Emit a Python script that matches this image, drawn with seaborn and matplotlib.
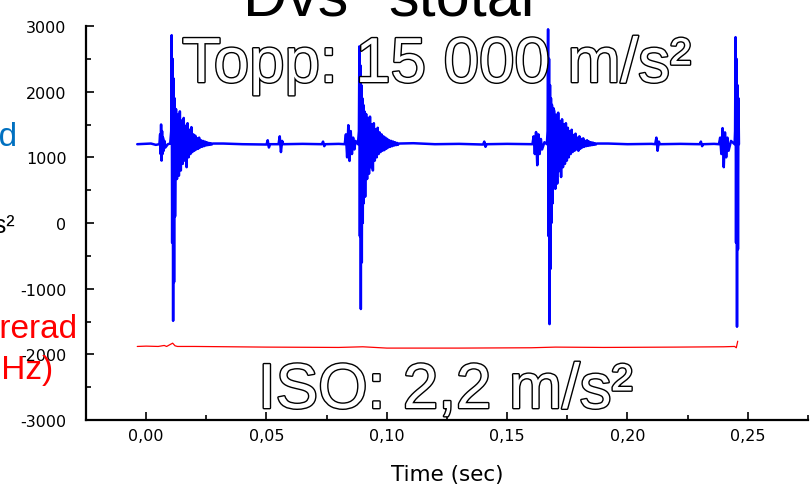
import matplotlib
matplotlib.use("Agg")
from matplotlib import pyplot as plt
from matplotlib import patheffects as pe
from matplotlib.ticker import MultipleLocator, FuncFormatter
import seaborn as sns

# unfiltered acceleration (m/s2)
blue_time = [
    # start + pre-burst 1
    -0.0037, 0.002, 0.004, 0.0055, 0.0058, 0.006, 0.0062, 0.0064, 0.0066, 0.0068, 0.007, 0.0073, 0.0076, 0.008, 0.009, 0.010,
    # hit 1
    0.0104, 0.0106, 0.0108, 0.0110, 0.0112, 0.0114, 0.0116, 0.0118, 0.0120,
    0.0124, 0.0128, 0.0132, 0.0136, 0.0140, 0.0144, 0.0148, 0.0152, 0.0156, 0.0160, 0.0164, 0.0168, 0.0172,
    0.0176, 0.0180, 0.0184, 0.0188, 0.0192, 0.0196, 0.0200, 0.0204, 0.0208, 0.0212, 0.0216, 0.0220, 0.0224,
    0.0228, 0.0232, 0.0236, 0.0240, 0.0244, 0.0248, 0.0252, 0.0256, 0.0260, 0.0264, 0.0268, 0.0272, 0.0276,
    # quiet part
    0.032, 0.04, 0.05, 0.0505, 0.051, 0.0515, 0.055, 0.0555, 0.056, 0.0565, 0.057, 0.065, 0.073, 0.0735,
    0.074, 0.0745, 0.080,
    # pre-burst 2
    0.0825, 0.0830, 0.0835, 0.084, 0.0845, 0.085, 0.0855, 0.086, 0.0865, 0.087, 0.088,
    # hit 2
    0.0884, 0.0886, 0.0888, 0.0890, 0.0892, 0.0894, 0.0896, 0.0898, 0.0900, 0.0902, 0.0904, 0.0907,
    0.0910, 0.0914, 0.0918, 0.0922, 0.0926, 0.0930, 0.0934, 0.0938, 0.0942, 0.0946, 0.0950, 0.0954,
    0.0958, 0.0962, 0.0966, 0.0970, 0.0974, 0.0978, 0.0982, 0.0986, 0.0990, 0.0994, 0.0998, 0.1002,
    0.1006, 0.1010, 0.1014, 0.1018, 0.1022, 0.1026, 0.1030, 0.1034, 0.1038, 0.1042, 0.1046, 0.1050,
    # quiet part
    0.111, 0.12, 0.13, 0.14, 0.1405, 0.141, 0.1415, 0.150, 0.158,
    # pre-burst 3
    0.1605, 0.161, 0.1615, 0.162, 0.1625, 0.163, 0.1635, 0.164, 0.1645, 0.1655, 0.1665,
    # hit 3
    0.1668, 0.1670, 0.1672, 0.1674, 0.1676, 0.1678, 0.1680, 0.1682, 0.1684, 0.1686, 0.1689, 0.1692,
    0.1696, 0.1700, 0.1704, 0.1708, 0.1712, 0.1716, 0.1720, 0.1724, 0.1728, 0.1732, 0.1736, 0.1740,
    0.1744, 0.1748, 0.1752, 0.1756, 0.1760, 0.1764, 0.1768, 0.1772, 0.1776, 0.1780, 0.1784, 0.1788,
    0.1792, 0.1796, 0.1800, 0.1804, 0.1808, 0.1812, 0.1816, 0.1820, 0.1824, 0.1828, 0.1832, 0.1836,
    0.1840, 0.1844, 0.1848, 0.1852, 0.1856, 0.1860, 0.1864, 0.1868, 0.1872,
    # quiet part
    0.192, 0.200, 0.210, 0.2115, 0.212, 0.2125, 0.213, 0.2135, 0.222, 0.230, 0.2305, 0.231, 0.2315, 0.236,
    # pre-burst 4
    0.238, 0.2385, 0.239, 0.2395, 0.240, 0.2405, 0.241, 0.2415, 0.242, 0.243, 0.2445,
    # hit 4 (end of record)
    0.2447, 0.2449, 0.2451, 0.2453, 0.2455, 0.2457, 0.2459, 0.2461, 0.2463]
blue_accel = [
    1200, 1210, 1190, 1200, 1350, 1050, 1500, 950, 1400, 1050, 1300, 1100, 1250, 1150, 1200, 1210,
    1400, 2860, -300, 2500, -1490, 2200, -900, 1900, 100,
    1735, 670, 1650, 720, 1700, 800, 1560, 900, 1600, 950, 1480, 850, 1520,
    1000, 1420, 1050, 1460, 1080, 1350, 1100, 1330, 1120, 1290, 1130, 1300, 1150,
    1260, 1160, 1250, 1170, 1240, 1180, 1230, 1185, 1220, 1190, 1215, 1195, 1210,
    1210, 1200, 1195, 1260, 1150, 1200, 1200, 1320, 1080, 1250, 1200, 1205, 1200, 1240,
    1170, 1200, 1205,
    1200, 1350, 1000, 1490, 945, 1400, 1050, 1300, 1120, 1250, 1200,
    1400, 2690, -200, 2400, -1310, 2100, -600, 1900, 0, 1800, 300, 1700,
    400, 1660, 670, 1600, 750, 1620, 850, 1500, 800, 1520, 950, 1430,
    1000, 1450, 1050, 1380, 1080, 1350, 1100, 1320, 1110, 1300, 1130, 1280,
    1150, 1260, 1160, 1250, 1170, 1240, 1180, 1230, 1185, 1220, 1190, 1210,
    1215, 1200, 1205, 1195, 1240, 1160, 1200, 1205, 1200,
    1200, 1320, 1050, 1385, 880, 1350, 1050, 1280, 1120, 1230, 1200,
    1400, 2950, -200, 2500, -1540, 2100, -700, 1900, 0, 1800, 300, 1750,
    1700, 520, 1650, 600, 1680, 790, 1550, 700, 1580, 850, 1500, 900,
    1520, 950, 1450, 1000, 1400, 1050, 1420, 1080, 1340, 1100, 1360, 1120,
    1300, 1100, 1320, 1130, 1280, 1150, 1290, 1160, 1250, 1170, 1260, 1175,
    1240, 1180, 1230, 1185, 1225, 1190, 1215, 1195, 1210,
    1210, 1200, 1205, 1200, 1300, 1100, 1240, 1200, 1205, 1200, 1240, 1170, 1200, 1205,
    1200, 1300, 1050, 1445, 850, 1380, 1000, 1300, 1100, 1250, 1200,
    1400, 2830, -300, 2500, -1580, 2100, -400, 1900, 1200]

# filtered signal (drawn offset down)
red_time = [-0.0037, 0.0, 0.005, 0.0075, 0.0085, 0.011, 0.012, 0.013, 0.02, 0.05, 0.08, 0.09, 0.1,
            0.13, 0.16, 0.17, 0.19, 0.22, 0.24, 0.2445, 0.2452, 0.2458]
red_accel = [-1880, -1875, -1880, -1865, -1880, -1830, -1870, -1880, -1880, -1890, -1895, -1885, -1905,
             -1905, -1900, -1890, -1895, -1890, -1885, -1880, -1900, -1800]

sns.set_style("ticks")
plt.rcParams['font.family'] = ['Liberation Sans', 'DejaVu Sans']
plt.rcParams['text.color'] = 'black'
plt.rcParams['axes.labelcolor'] = 'black'
plt.rcParams['xtick.color'] = 'black'
plt.rcParams['ytick.color'] = 'black'

fig = plt.figure(figsize=(8.12, 4.85), dpi=100)
ax = fig.add_axes([86 / 812, 64 / 485, 722 / 812, 394 / 485])

sns.lineplot(x=blue_time, y=blue_accel, color="#0000FF", lw=1.8, estimator=None, sort=False, ax=ax)
sns.lineplot(x=red_time, y=red_accel, color="#FF0000", lw=0.9, estimator=None, sort=False, ax=ax)

ax.set_xlim(-0.025, 0.275)
ax.set_ylim(-3000, 3000)
ax.xaxis.set_major_locator(MultipleLocator(0.05))
ax.xaxis.set_minor_locator(MultipleLocator(0.025))
ax.yaxis.set_major_locator(MultipleLocator(1000))
ax.yaxis.set_minor_locator(MultipleLocator(500))
ax.xaxis.set_major_formatter(FuncFormatter(lambda v, p: f"{v:.2f}".replace(".", ",")))
ax.yaxis.set_major_formatter(FuncFormatter(lambda v, p: f"{v:.0f}"))

sns.despine(ax=ax)
for s in ["left", "bottom"]:
    ax.spines[s].set_linewidth(1.6)
    ax.spines[s].set_color("black")
ax.tick_params(which="both", direction="in", width=1.2, color="black")
ax.tick_params(which="major", length=6)
ax.tick_params(which="minor", length=3.5)
ax.tick_params(axis="x", which="major", pad=6)
ax.tick_params(axis="y", which="major", pad=14)
for lab in ax.get_xticklabels() + ax.get_yticklabels():
    lab.set_family("DejaVu Sans")
    lab.set_fontsize(11.5)

ax.set_xlabel("Time (sec)", fontsize=15.5, family="DejaVu Sans", labelpad=15)
ax.set_ylabel("")

# cropped title
fig.text(243 / 812, 1 - 15 / 485, "Dvs", fontsize=44, va="baseline", ha="left")
fig.text(388 / 812, 1 - 15 / 485, "stotal", fontsize=44, va="baseline", ha="left")

# cropped side labels
fig.text(17 / 812, 1 - 146 / 485, "Ofiltrerad", fontsize=24, color="#0070C0", ha="right", va="baseline")
fig.text(15 / 812, 1 - 233 / 485, "m/s²", fontsize=18, color="black", ha="right", va="baseline")
fig.text(77 / 812, 1 - 338 / 485, "Filtrerad", fontsize=24, color="#FF0000", ha="right", va="baseline")
fig.text(53 / 812, 1 - 379 / 485, "(6,3-1250 Hz)", fontsize=24, color="#FF0000", ha="right", va="baseline")

outline = [pe.withStroke(linewidth=2.0, foreground="black")]
fig.text(182 / 812, 1 - 83 / 485, "Topp: 15 000 m/s²", fontsize=45.8, color="white",
         va="baseline", ha="left", path_effects=outline, zorder=5)
fig.text(258 / 812, 1 - 409 / 485, "ISO: 2,2 m/s²", fontsize=45.8, color="white",
         va="baseline", ha="left", path_effects=outline, zorder=5)

fig.savefig("out.png", dpi=100)
